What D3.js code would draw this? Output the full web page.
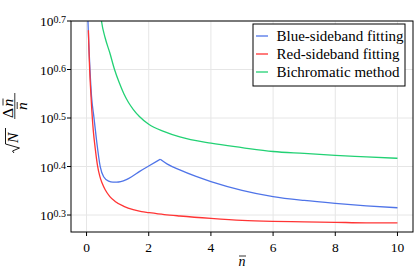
<!DOCTYPE html>
<html>
<head>
<meta charset="utf-8">
<script src="https://cdn.jsdelivr.net/npm/d3@7"></script>
<style>
  html, body { margin: 0; padding: 0; background: #fff; }
</style>
</head>
<body>
<svg id="chart" width="415" height="277"></svg>
<script>
// occupation number (x) and log10 of the plotted quantity for each curve
const blueN   = [0.04, 0.07, 0.11, 0.16, 0.24, 0.32, 0.44, 0.55, 0.71, 0.85, 0.97, 1.1, 1.28, 1.45, 1.71, 2.0, 2.37, 2.6, 3.0, 3.5, 4.0, 5.0, 6.0, 7.0, 8.0, 9.0, 10.0];
const blueExp = [0.71, 0.655, 0.60, 0.545, 0.50, 0.455, 0.40, 0.379, 0.370, 0.368, 0.368, 0.369, 0.373, 0.379, 0.390, 0.401, 0.415, 0.405, 0.393, 0.380, 0.369, 0.351, 0.338, 0.330, 0.324, 0.319, 0.315];

const redN   = [0.06, 0.08, 0.10, 0.13, 0.17, 0.22, 0.28, 0.35, 0.43, 0.5, 0.6, 0.75, 0.92, 1.2, 1.5, 1.77, 2.0, 2.5, 3.0, 4.0, 5.0, 6.0, 7.0, 8.0, 9.0, 10.0];
const redExp = [0.681, 0.636, 0.600, 0.560, 0.515, 0.472, 0.437, 0.403, 0.379, 0.366, 0.352, 0.338, 0.328, 0.318, 0.311, 0.307, 0.305, 0.301, 0.298, 0.293, 0.289, 0.287, 0.286, 0.285, 0.284, 0.284];

const greenN   = [0.46, 0.48, 0.6, 0.75, 0.9, 1.05, 1.2, 1.35, 1.5, 1.7, 2.0, 2.5, 3.0, 4.0, 5.0, 6.0, 7.0, 8.0, 9.0, 10.0];
const greenExp = [0.71, 0.70, 0.665, 0.634, 0.60, 0.573, 0.55, 0.532, 0.518, 0.503, 0.487, 0.472, 0.461, 0.448, 0.439, 0.431, 0.427, 0.423, 0.420, 0.417];

const xTicks = [0, 2, 4, 6, 8, 10];
const yTickExps = ['0.3', '0.4', '0.5', '0.6', '0.7'];
const legendLabels = ['Blue-sideband fitting', 'Red-sideband fitting', 'Bichromatic method'];

const colors = { blue: '#4f74e8', red: '#ff3434', green: '#22d174' };
const FONT = '"Liberation Serif"';

const margin = { top: 21, right: 2, bottom: 45, left: 71 };
const W = 415, H = 277;
const innerW = W - margin.left - margin.right;
const innerH = H - margin.top - margin.bottom;

const svg = d3.select('#chart');

const x = d3.scaleLinear().domain([-0.5, 10.5]).range([0, innerW]);
const y = d3.scaleLog().domain([Math.pow(10, 0.265), Math.pow(10, 0.7)]).range([innerH, 0]);

const toPoints = (ns, exps) => ns.map((n, i) => ({ n: n, v: Math.pow(10, exps[i]) }));

// every text goes through here so the serif face is set inline
function addText(parent, str, size) {
  return parent.append('text')
    .style('font-family', FONT)
    .style('font-size', size + 'px')
    .attr('fill', '#000')
    .text(str);
}

const g = svg.append('g').attr('transform', `translate(${margin.left},${margin.top})`);

g.append('clipPath').attr('id', 'plot-clip')
  .append('rect').attr('width', innerW).attr('height', innerH);

// grid
const grid = g.append('g').attr('stroke', '#e6e6e6').attr('stroke-width', 1);
xTicks.forEach(t => {
  grid.append('line')
    .attr('x1', x(t)).attr('x2', x(t))
    .attr('y1', 0).attr('y2', innerH);
});
yTickExps.forEach(e => {
  const yy = y(Math.pow(10, +e));
  grid.append('line')
    .attr('x1', 0).attr('x2', innerW)
    .attr('y1', yy).attr('y2', yy);
});

// curves
const line = d3.line()
  .x(d => x(d.n))
  .y(d => y(d.v))
  .curve(d3.curveMonotoneX);

const curves = g.append('g').attr('clip-path', 'url(#plot-clip)').attr('fill', 'none').attr('stroke-width', 1.3);

const bluePts = toPoints(blueN, blueExp);
// the blue curve has a kink at its maximum, so draw both sides separately
const peak = d3.maxIndex(bluePts, d => (d.n > 1 ? d.v : 0));
curves.append('path').attr('d', line(bluePts.slice(0, peak + 1))).attr('stroke', colors.blue);
curves.append('path').attr('d', line(bluePts.slice(peak))).attr('stroke', colors.blue);
curves.append('path').attr('d', line(toPoints(redN, redExp))).attr('stroke', colors.red);
curves.append('path').attr('d', line(toPoints(greenN, greenExp))).attr('stroke', colors.green);

// frame
g.append('rect')
  .attr('width', innerW).attr('height', innerH)
  .attr('fill', 'none').attr('stroke', '#000').attr('stroke-width', 1);

// x axis
const xAxis = g.append('g').attr('transform', `translate(0,${innerH})`);
xTicks.forEach(t => {
  xAxis.append('line').attr('x1', x(t)).attr('x2', x(t)).attr('y1', 0).attr('y2', 4).attr('stroke', '#000');
  addText(xAxis, t, 13.5)
    .attr('x', x(t)).attr('y', 19.5)
    .attr('text-anchor', 'middle');
});

// y axis
const yAxis = g.append('g');
yTickExps.forEach(e => {
  const yy = y(Math.pow(10, +e));
  yAxis.append('line').attr('x1', -4).attr('x2', 0).attr('y1', yy).attr('y2', yy).attr('stroke', '#000');
  const txt = addText(yAxis, null, 13.5)
    .attr('x', -5).attr('y', yy + 5)
    .attr('text-anchor', 'end');
  txt.append('tspan').text('10');
  txt.append('tspan').style('font-size', '10px').attr('dy', -3).text(e);
});

// x title: n with a bar
const xt = svg.append('g').attr('transform', `translate(${margin.left + innerW / 2},266)`);
addText(xt, 'n', 14).attr('text-anchor', 'middle').style('font-style', 'italic');
xt.append('line').attr('x1', -3).attr('x2', 4).attr('y1', -10).attr('y2', -10).attr('stroke', '#000').attr('stroke-width', 0.8);

// y title: sqrt(N) * (Δn̄ / n̄), rotated
const yt = svg.append('g').attr('transform', 'translate(18,122) rotate(-90)');
yt.append('path')
  .attr('d', 'M-31,-4 L-29,-5.5 L-26,1.5 L-22,-12.5 L-6,-12.5')
  .attr('fill', 'none').attr('stroke', '#000').attr('stroke-width', 0.9);
addText(yt, 'N', 15.5).attr('x', -21).attr('y', 0).style('font-style', 'italic');
yt.append('line').attr('x1', 3).attr('x2', 29).attr('y1', -3.2).attr('y2', -3.2).attr('stroke', '#000').attr('stroke-width', 0.8);
addText(yt, 'Δ', 15.5).attr('x', 4).attr('y', -5.5);
addText(yt, 'n', 15.5).attr('x', 15.5).attr('y', -5.5).style('font-style', 'italic');
yt.append('line').attr('x1', 16.5).attr('x2', 23.5).attr('y1', -15).attr('y2', -15).attr('stroke', '#000').attr('stroke-width', 0.8);
addText(yt, 'n', 15.5).attr('x', 12).attr('y', 8.5).style('font-style', 'italic');
yt.append('line').attr('x1', 13).attr('x2', 20).attr('y1', -0.8).attr('y2', -0.8).attr('stroke', '#000').attr('stroke-width', 0.8);

// legend
const legend = svg.append('g').attr('transform', 'translate(253,24)');
legend.append('rect')
  .attr('width', 152).attr('height', 62)
  .attr('fill', '#fff').attr('stroke', '#000').attr('stroke-width', 1);
[colors.blue, colors.red, colors.green].forEach((c, i) => {
  const row = legend.append('g').attr('transform', `translate(0,${12 + i * 18})`);
  row.append('line').attr('x1', 3).attr('x2', 15).attr('y1', 0).attr('y2', 0).attr('stroke', c).attr('stroke-width', 1.3);
  addText(row, legendLabels[i], 15).attr('x', 23.5).attr('y', 5);
});
</script>
</body>
</html>
